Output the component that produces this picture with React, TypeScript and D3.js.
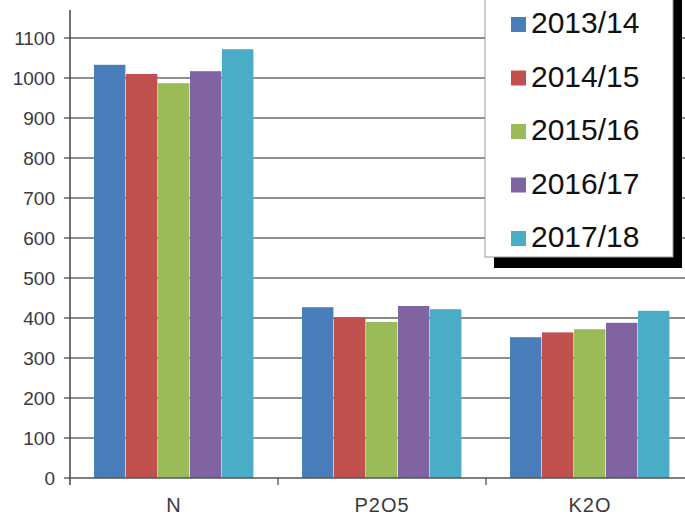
import { scaleBand, scaleLinear, range } from "d3";

const categories = ["N", "P2O5", "K2O"];
const seasons = ["2013/14", "2014/15", "2015/16", "2016/17", "2017/18"];
const colors = ["#4a7ebb", "#c0504d", "#9bbb59", "#8064a2", "#4bacc6"];
// values per season, in category order N, P2O5, K2O
const s1314 = [1033, 427, 352];
const s1415 = [1010, 402, 364];
const s1516 = [987, 390, 372];
const s1617 = [1017, 430, 388];
const s1718 = [1072, 422, 418];
const values = [s1314, s1415, s1516, s1617, s1718];
const yTicks = range(0, 1101, 100);

export default function App() {
  const width = 685;
  const height = 516;
  const left = 70;
  const bottom = 478;

  const x0 = scaleBand(categories, [left, left + 624]);
  const x1 = scaleBand(seasons, [24, x0.bandwidth() - 24]);
  const y = scaleLinear([0, 1100], [bottom, 38]);

  const font = "Liberation Sans, Arial, sans-serif";

  return (
    <svg
      width={width}
      height={height}
      style={{ position: "fixed", left: 0, top: 0, background: "#fff" }}
    >
      {/* gridlines */}
      {yTicks.slice(1).map((t) => {
        const soft = t === 1100 || t === 400;
        return (
          <line
            key={t}
            x1={left}
            x2={width}
            y1={y(t)}
            y2={y(t)}
            stroke={soft ? "#8a8a8a" : "#222"}
            strokeWidth={soft ? 2 : 1.2}
          />
        );
      })}

      {/* bars */}
      {categories.map((c, ci) => (
        <g key={c} transform={`translate(${x0(c)},0)`}>
          {seasons.map((s, si) => (
            <rect
              key={s}
              x={x1(s)}
              width={x1.bandwidth() - 0.6}
              y={y(values[si][ci])}
              height={bottom - y(values[si][ci])}
              fill={colors[si]}
            />
          ))}
        </g>
      ))}

      {/* y axis */}
      <line x1={left} x2={left} y1={10} y2={bottom + 7} stroke="#444" strokeWidth={1.5} />
      {yTicks.map((t) => (
        <g key={t}>
          <line x1={left - 6} x2={left} y1={y(t)} y2={y(t)} stroke="#444" strokeWidth={1.2} />
          <text
            x={left - 15}
            y={y(t)}
            dy="0.35em"
            textAnchor="end"
            fontFamily={font}
            fontSize={19}
            fill="#3a3a3a"
          >
            {t}
          </text>
        </g>
      ))}

      {/* x axis */}
      <line x1={left} x2={width} y1={bottom} y2={bottom} stroke="#555" strokeWidth={1.5} />
      {categories.slice(1).map((c) => (
        <line key={c} x1={x0(c)} x2={x0(c)} y1={bottom} y2={bottom + 7} stroke="#444" strokeWidth={1.2} />
      ))}
      {categories.map((c) => (
        <text
          key={c}
          x={(x0(c) ?? 0) + x0.bandwidth() / 2}
          y={512}
          textAnchor="middle"
          fontFamily={font}
          fontSize={20}
          letterSpacing={1}
          fill="#3a3a3a"
        >
          {c}
        </text>
      ))}

      {/* legend */}
      <rect x={494} y={-20} width={188} height={288} fill="#000" />
      <rect x={485} y={-20} width={188} height={277} fill="#fff" stroke="#999" strokeWidth={1} />
      {seasons.map((s, i) => {
        const base = 33 + i * 53.5;
        return (
          <g key={s}>
            <rect x={511} y={base - 16} width={15} height={15} fill={colors[i]} />
            <text x={531} y={base} fontFamily={font} fontSize={30} fill="#111">
              {s}
            </text>
          </g>
        );
      })}
    </svg>
  );
}
